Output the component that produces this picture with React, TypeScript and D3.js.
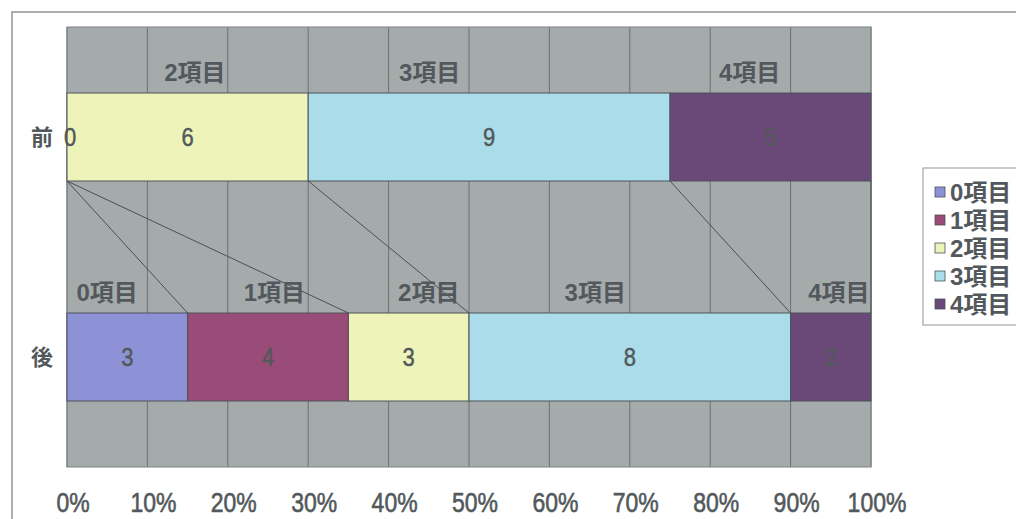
import React from 'react';
import * as d3 from 'd3';

const categories = ['前', '後'];
const seriesNames = ['0項目', '1項目', '2項目', '3項目', '4項目'];
const beforeValues: (number | null)[] = [0, null, 6, 9, 5];
const afterValues: (number | null)[] = [3, 4, 3, 8, 2];
const tickValues = [0, 0.1, 0.2, 0.3, 0.4, 0.5, 0.6, 0.7, 0.8, 0.9, 1];
const seriesColors = ['#8d91d6', '#9a4c78', '#eef4b9', '#aadde9', '#6a4878'];
// text-box annotations above each bar (x in share of total)
const beforeNoteNames = ['2項目', '3項目', '4項目'];
const beforeNoteShares = [0.159, 0.451, 0.849];
const afterNoteNames = ['0項目', '1項目', '2項目', '3項目', '4項目'];
const afterNoteShares = [0.05, 0.258, 0.45, 0.657, 0.96];

const W = 1016;
const H = 519;
const plot = { left: 67, right: 871, top: 27, bottom: 467 };
const textColor = '#52585b';
const font = '"Liberation Sans", "Noto Sans CJK JP", sans-serif';

export default function App() {
  const x = d3.scaleLinear().domain([0, 1]).range([plot.left, plot.right]);
  const y = d3
    .scaleBand<string>()
    .domain(categories)
    .range([plot.top, plot.bottom])
    .paddingInner(0.6)
    .paddingOuter(0.3);

  const rows = [beforeValues, afterValues];
  const table = categories.map((c, ci) => {
    const o: Record<string, number | string> = { cat: c };
    seriesNames.forEach((s, si) => {
      o[s] = rows[ci][si] ?? 0;
    });
    return o;
  });
  const stack = d3
    .stack<Record<string, number | string>>()
    .keys(seriesNames)
    .value((d, k) => d[k] as number)
    .offset(d3.stackOffsetExpand);
  const layers = stack(table);

  const bw = y.bandwidth();
  const y0 = y(categories[0])!;
  const y1 = y(categories[1])!;

  const notes = [
    { names: beforeNoteNames, shares: beforeNoteShares, cat: categories[0] },
    { names: afterNoteNames, shares: afterNoteShares, cat: categories[1] },
  ];

  return (
    <svg
      width={W}
      height={H}
      style={{ position: 'absolute', left: 0, top: 0, background: '#fff' }}
      fontFamily={font}
    >
      {/* chart area border */}
      <path d={`M12,${H} L12,12 L${W},12`} fill="none" stroke="#8e9595" strokeWidth={1.5} />

      {/* plot background */}
      <rect
        x={plot.left}
        y={plot.top}
        width={plot.right - plot.left}
        height={plot.bottom - plot.top}
        fill="#a5aaab"
      />
      {tickValues.map((t) => (
        <line
          key={'g' + t}
          x1={x(t)}
          x2={x(t)}
          y1={plot.top}
          y2={plot.bottom}
          stroke="#6c7173"
          strokeWidth={1}
        />
      ))}
      <rect
        x={plot.left}
        y={plot.top}
        width={plot.right - plot.left}
        height={plot.bottom - plot.top}
        fill="none"
        stroke="#7d8283"
        strokeWidth={1}
      />

      {/* bars */}
      {layers.map((layer, si) =>
        layer.map((d, ci) => {
          if (rows[ci][si] == null) return null;
          const cat = categories[ci];
          return (
            <rect
              key={`b${si}-${ci}`}
              x={x(d[0])}
              y={y(cat)}
              width={Math.max(0, x(d[1]) - x(d[0]))}
              height={bw}
              fill={seriesColors[si]}
              stroke="#4d5358"
              strokeWidth={1}
            />
          );
        })
      )}

      {/* series lines */}
      {layers.map((layer, si) => (
        <line
          key={'sl' + si}
          x1={x(layer[0][1])}
          y1={y0 + bw}
          x2={x(layer[1][1])}
          y2={y1}
          stroke="#4a5054"
          strokeWidth={1}
        />
      ))}

      {/* value labels */}
      {layers.map((layer, si) =>
        layer.map((d, ci) => {
          const v = rows[ci][si];
          if (v == null) return null;
          return (
            <text
              key={`v${si}-${ci}`}
              transform={`translate(${(x(d[0]) + x(d[1])) / 2 + (v === 0 ? 3 : 0)},${
                y(categories[ci])! + bw / 2
              }) scale(1,1.15)`}
              textAnchor="middle"
              dominantBaseline="central"
              fontSize={22}
              fill={textColor}
              stroke={textColor}
              strokeWidth={0.4}
            >
              {v}
            </text>
          );
        })
      )}

      {/* annotations */}
      {notes.map((n) =>
        n.names.map((name, i) => (
          <text
            key={`n${n.cat}${i}`}
            x={x(n.shares[i])}
            y={y(n.cat)! - 21}
            textAnchor="middle"
            dominantBaseline="central"
            fontSize={24}
            fontWeight="bold"
            fill={textColor}
          >
            {name}
          </text>
        ))
      )}

      {/* category labels */}
      {categories.map((c) => (
        <text
          key={'c' + c}
          x={42}
          y={y(c)! + bw / 2}
          textAnchor="middle"
          dominantBaseline="central"
          fontSize={22}
          fontWeight="bold"
          fill={textColor}
        >
          {c}
        </text>
      ))}

      {/* x tick labels */}
      {tickValues.map((t) => (
        <text
          key={'t' + t}
          transform={`translate(${x(t) + 6},${502}) scale(1,1.2)`}
          textAnchor="middle"
          dominantBaseline="central"
          fontSize={23}
          fill={textColor}
          stroke={textColor}
          strokeWidth={0.5}
        >
          {d3.format('.0%')(t)}
        </text>
      ))}

      {/* legend */}
      <rect x={923} y={168} width={110} height={157} fill="#fff" stroke="#8e9595" strokeWidth={1} />
      {seriesNames.map((s, i) => (
        <g key={'l' + s} transform={`translate(935,${192 + i * 28})`}>
          <rect x={0} y={-5} width={10} height={10} fill={seriesColors[i]} stroke="#4d5358" strokeWidth={0.8} />
          <text x={15} y={0} dominantBaseline="central" fontSize={24} fontWeight="bold" fill={textColor}>
            {s}
          </text>
        </g>
      ))}
    </svg>
  );
}
